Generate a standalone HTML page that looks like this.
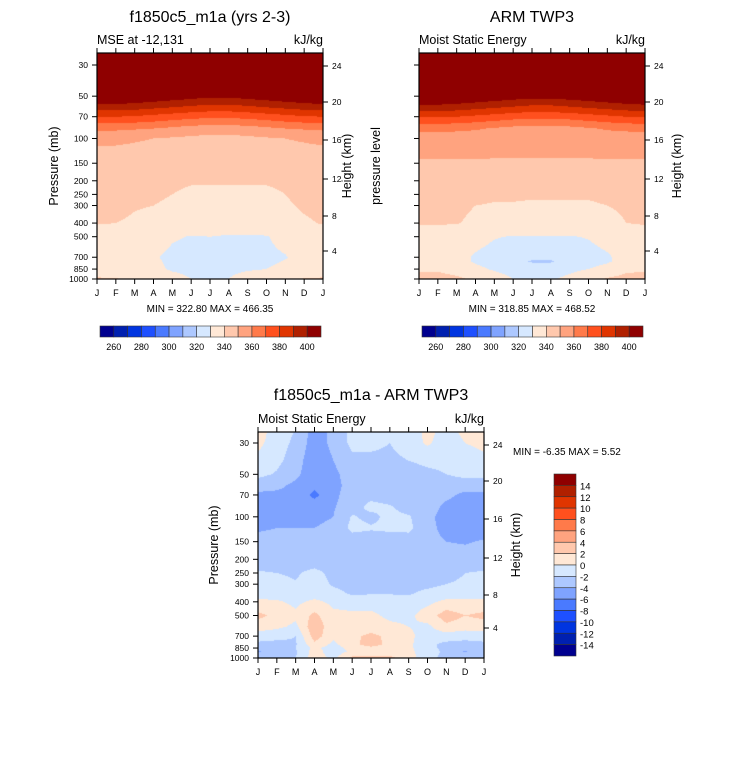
<!DOCTYPE html>
<html><head><meta charset="utf-8">
<style>
body{margin:0;background:#fff;width:733px;height:768px;overflow:hidden;position:relative;font-family:"Liberation Sans",Arial,sans-serif}
canvas{position:absolute}
svg{position:absolute;left:0;top:0}
</style></head><body>
<canvas id="c1" width="226" height="226" style="left:97px;top:53px"></canvas>
<canvas id="c2" width="226" height="226" style="left:419px;top:53px"></canvas>
<canvas id="c3" width="226" height="226" style="left:258px;top:432px"></canvas>
<svg id="ov" width="733" height="768"></svg>
<script>
const months=["J","F","M","A","M","J","J","A","S","O","N","D","J"];
const colors=["#00008f","#0020b0","#0035e0","#1e50ff","#4a7aff","#7fa3ff","#adc8ff","#d6e8ff","#ffe8d6","#ffc8ad","#ffa37f","#ff7a4a","#ff501e","#e03500","#b02000","#8f0000"];
const mseLevels=[260,270,280,290,300,310,320,330,340,350,360,370,380,390,400];
const mseTicks=[260,280,300,320,340,360,380,400];
const diffLevels=[-14,-12,-10,-8,-6,-4,-2,0,2,4,6,8,10,12,14];
const diffTicks=[14,12,10,8,6,4,2,0,-2,-4,-6,-8,-10,-12,-14];
const pTicks=[30,50,70,100,150,200,250,300,400,500,700,850,1000];
const hTicks=[24,20,16,12,8,4];

const p1Lev=[24,30,50,60,70,85,100,150,200,250,300,400,500,700,850,1000];
const p1=[
[462,462,462,462,462,462,462,462,462,462,462,462,462],
[455,455,455,455,455,455,455,455,455,455,455,455,455],
[412,412,410,408,406,404,402,402,404,406,408,410,412],
[395,395,394,392,390,388,386,386,388,390,392,394,395],
[380,380,379,377,375,373,372,372,373,375,377,379,380],
[362,362,361,360,358,356,355,355,356,358,360,361,362],
[352,352,351,350,349,348,347,347,348,349,350,351,352],
[345,345,345,345,345,345,345,345,345,345,345,345,345],
[343,343,343,342,341,340.5,340.5,340.5,340.5,340.5,341,343,343],
[343,343,342,341,340,339,339,339,339,339,340,342,343],
[342,342,340.5,340,339,338,338,338,338,338,339,341,342],
[340.5,340,339,338,337,336,336,336,336,336,337,339,340.5],
[336,336,335,334,331,329.5,330,329,329,329.5,333,335,336],
[335,335,334,331,328,327,326,326,327,328,329.5,333,335],
[335,335,334,332,329,328,328,328,329,330,332,334,335],
[341,340.5,338,336,333,330,330,330,334,336,338,340.5,341]];

const p2Lev=[24,30,50,60,70,85,100,150,200,250,300,400,500,700,750,850,1000];
const p2=[
[465,465,465,465,465,465,465,465,465,465,465,465,465],
[456,456,456,456,456,456,456,456,456,456,456,456,456],
[413,413,411,409,407,405,404,404,405,407,409,411,413],
[396,396,395,393,391,389,387,387,389,391,393,395,396],
[381,381,380,378,376,374,373,373,374,376,378,380,381],
[363,363,362,361,359,357,356,356,357,359,361,362,363],
[355,355,355,355,354,354,354,354,354,354,355,355,355],
[349,349,349,349,349,349,349,349,349,349,349,349,349],
[345,345,345,345,345,345,345,345,345,345,345,345,345],
[343,343,343,342,341,341,341,341,341,341,342,343,343],
[341.5,341.5,341,340,339.5,339.5,339,339,339,339,340,341,341.5],
[340.5,340.5,340.3,339,338,338,337,337,337,337,338,340,340.5],
[337,337,336,333,330.5,329.5,329.5,329.5,329.5,330.5,333,336,337],
[336,335,333,329,327,325,322,322,325,327,329,333,336],
[336,335,333,329,327,324,319,319,324,327,329,333,336],
[339,339,336,332,329,327,326,326,328,330,333,338,339],
[343,343,342,338,334,330,329,329,332,336,341,343,343]];

const dLev=[24,30,40,50,60,70,85,100,120,150,200,250,300,350,400,500,600,700,800,850,900,1000];
const d=[
[1.0,-1,-2,-5,-3.5,-1.5,-1,-1,-1,0.5,-0.5,0.5,1],
[0.5,-1,-2.5,-5,-3.5,-1.5,-1.5,-2,-1,0.3,-1,0,0.5],
[-0.5,-1.5,-3,-5.5,-4,-2.5,-2.5,-2.5,-2,-1.5,-1.5,-1,-0.5],
[-1.5,-2.2,-3.5,-5.5,-4.5,-3,-3,-3,-3,-2.5,-2,-1.5,-1.5],
[-3,-3.5,-4.5,-5.5,-4.8,-3,-3,-3,-3,-3,-3,-3,-3],
[-4.5,-4.5,-4.6,-6.5,-4.5,-3,-2.5,-3,-3,-3,-3.5,-4.5,-4.5],
[-5,-4.5,-4.5,-5,-4.2,-2.8,-1.5,-1.8,-2.8,-3,-4.5,-5,-5],
[-4.8,-4.5,-4.5,-4.5,-4,-1.8,-2.5,-1.5,-1.8,-3.5,-4.8,-5,-5],
[-4.2,-4,-4,-4,-3.5,-1.5,-1.8,-1.6,-1.5,-3.5,-4.5,-5,-5],
[-3.5,-3.5,-3.5,-3.5,-3.5,-3,-3,-3,-3,-3.5,-4,-4.2,-3.8],
[-3,-3,-3,-3,-3,-3,-3,-3,-3,-3,-3,-3,-3],
[-1.8,-2,-2.2,-1.5,-2.5,-3,-3,-3,-3,-3,-3,-2,-1.8],
[-1.5,-1.5,-1.9,-1.2,-2.2,-2.5,-2.5,-2.5,-2.5,-2.5,-2,-1.5,-1.5],
[-1,-1,-1.5,-1,-1.5,-2.2,-2.1,-2.1,-2.2,-1.5,-1,-1,-1],
[0.5,0.3,-0.5,0.5,-0.5,-1,-1,-1,-1,-0.5,0.5,0.5,0.5],
[2.5,1.5,0.5,2.5,0.5,0.5,0.5,-0.5,-0.5,1,3,2,2.5],
[1,0.5,-0.5,3.5,0.5,0.5,1,0.5,0,-0.5,1.5,1,1],
[-1,-1.5,-2,3,0.5,1.5,2.5,1.5,0.5,-1,-1,-1.5,-1],
[-2.5,-2.5,-2.2,1.5,-0.5,1.5,2.8,1.5,0.5,-1.5,-2.5,-2.5,-2.5],
[-2.5,-2.5,-2,0.5,-1,0.8,1.5,1,0.5,-1.5,-2.5,-3,-2.5],
[-4.2,-3,-2.3,1,-1.2,0.5,1,1,0.5,-1,-2.5,-4.2,-2.5],
[-2.5,-2.5,-2,1,-0.5,2.5,2.5,2.5,1,-1.5,-2.5,-3,-2.5]];

const NS="http://www.w3.org/2000/svg";
const ov=document.getElementById('ov');
function el(tag,attrs,txt){const e=document.createElementNS(NS,tag);for(const k in attrs)e.setAttribute(k,attrs[k]);if(txt!==undefined)e.textContent=txt;ov.appendChild(e);return e;}

function makeY(y30,y1000){return p=>y30+(Math.log10(p)-Math.log10(30))/(Math.log10(1000)-Math.log10(30))*(y1000-y30);}
function colorIdx(v,lev){let i=0;while(i<lev.length&&v>=lev[i])i++;return i;}
function interpRow(r,m){const i=Math.min(11,Math.floor(m));const t=m-i;return r[i]*(1-t)+r[i+1]*t;}
function sample(levs,grid,p,m){
  const lp=Math.log10(p);let k=0;
  if(p<=levs[0])return interpRow(grid[0],m);
  if(p>=levs[levs.length-1])return interpRow(grid[levs.length-1],m);
  while(k<levs.length-2&&p>levs[k+1])k++;
  const t=(lp-Math.log10(levs[k]))/(Math.log10(levs[k+1])-Math.log10(levs[k]));
  return interpRow(grid[k],m)*(1-t)+interpRow(grid[k+1],m)*t;
}

function drawField(id,x0,y0,yOf,levs,grid,clev,cols){
  const cv=document.getElementById(id),ctx=cv.getContext('2d');
  const W=cv.width,H=cv.height;
  const y30=yOf(30),y1000=yOf(1000);
  for(let py=0;py<H;py++){
    const Y=y0+py+0.5;
    const lp=Math.log10(30)+(Y-y30)/(y1000-y30)*(Math.log10(1000)-Math.log10(30));
    const p=Math.pow(10,lp);
    for(let px=0;px<W;px++){
      const m=(px+0.5)/W*12;
      const v=sample(levs,grid,p,m);
      ctx.fillStyle=cols[colorIdx(v,clev)];
      ctx.fillRect(px,py,1,1);
    }
  }
}

function axes(x0,y0,w,h,yOf,hPos,opts){
  el('rect',{x:x0,y:y0,width:w,height:h,fill:'none',stroke:'#000','stroke-width':1.2,});
  months.forEach((mn,i)=>{
    const x=x0+i*w/12;
    el('line',{x1:x,y1:y0,x2:x,y2:y0-5,stroke:'#000','stroke-width':1});
    el('line',{x1:x,y1:y0+h,x2:x,y2:y0+h+5,stroke:'#000','stroke-width':1});
    const t=el('text',{x:x,y:y0+h+17,'font-size':9,'text-anchor':'middle'},mn);
    
    
  });
  pTicks.forEach(p=>{
    const y=yOf(p);
    el('line',{x1:x0,y1:y,x2:x0-5,y2:y,stroke:'#000','stroke-width':1});
    if(opts.plabels){const t=el('text',{x:x0-9,y:y+3,'font-size':8.5,'text-anchor':'end'},p);
      
      }
  });
  hTicks.forEach((hv,i)=>{
    const y=hPos[i];
    el('line',{x1:x0+w,y1:y,x2:x0+w+5,y2:y,stroke:'#000','stroke-width':1});
    const t=el('text',{x:x0+w+9,y:y+3,'font-size':8.5},hv);
    
    
  });
}

const yA=makeY(65,279), yB=makeY(443,658);
drawField('c1',97,53,yA,p1Lev,p1,mseLevels,colors);
drawField('c2',419,53,yA,p2Lev,p2,mseLevels,colors);
drawField('c3',258,432,yB,dLev,d,diffLevels,colors);

const hTop=[66,102,140,179,216,251], hBot=[445,481,519,558,595,628];
axes(97,53,226,226,yA,hTop,{name:'model',plabels:true});
axes(419,53,226,226,yA,hTop,{name:'arm',plabels:false});
axes(258,432,226,226,yB,hBot,{name:'diff',plabels:true});

function txt(x,y,s,size,anchor,name,rot){
  const a={x:x,y:y,'font-size':size,'text-anchor':anchor||'start',};
  if(rot)a.transform='rotate(-90 '+x+' '+y+')';
  return el('text',a,s);
}
txt(210,22,'f1850c5_m1a (yrs 2-3)',16,'middle','model-title');
txt(97,44,'MSE at -12,131',12.5,'start','model-subtitle');
txt(323,44,'kJ/kg',12.5,'end','model-units');
txt(58,166,'Pressure (mb)',12.5,'middle','model-y-axis-title',true);
txt(351,166,'Height (km)',12.5,'middle','model-height-axis-title',true);
txt(210,312,'MIN = 322.80 MAX = 466.35',10,'middle','model-min-max');

txt(532,22,'ARM TWP3',16,'middle','arm-title');
txt(419,44,'Moist Static Energy',12.5,'start','arm-subtitle');
txt(645,44,'kJ/kg',12.5,'end','arm-units');
txt(380,166,'pressure level',12.5,'middle','arm-y-axis-title',true);
txt(681,166,'Height (km)',12.5,'middle','arm-height-axis-title',true);
txt(532,312,'MIN = 318.85 MAX = 468.52',10,'middle','arm-min-max');

txt(371,400,'f1850c5_m1a - ARM TWP3',16,'middle','diff-title');
txt(258,423,'Moist Static Energy',12.5,'start','diff-subtitle');
txt(484,423,'kJ/kg',12.5,'end','diff-units');
txt(218,545,'Pressure (mb)',12.5,'middle','diff-y-axis-title',true);
txt(520,545,'Height (km)',12.5,'middle','diff-height-axis-title',true);
txt(513,455,'MIN =  -6.35 MAX =   5.52',10,'start','diff-min-max');

function hbar(x0,name){
  const w=221/16;
  colors.forEach((c,i)=>{
    const r=el('rect',{x:x0+i*w,y:326,width:w,height:11,fill:c,stroke:'#333','stroke-width':0.6});
    
    
  });
  mseTicks.forEach(v=>{
    const k=mseLevels.indexOf(v)+1;
    const t=el('text',{x:x0+k*w,y:350,'font-size':9,'text-anchor':'middle'},v);
    
    
  });
}
hbar(100,'model-colorbar');hbar(422,'arm-colorbar');
(function(){
  const h=182/16;
  colors.slice().reverse().forEach((c,i)=>{
    const r=el('rect',{x:554,y:474+i*h,width:22,height:h,fill:c,stroke:'#333','stroke-width':0.6});
    
    
  });
  diffTicks.forEach((v,i)=>{
    const t=el('text',{x:580,y:474+(i+1)*h+4,'font-size':9.5},v);
    
    
  });
})();
</script>
</body></html>
